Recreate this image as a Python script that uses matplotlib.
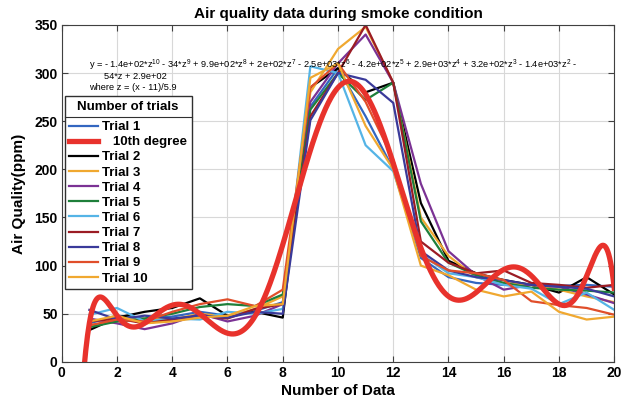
import numpy as np
import matplotlib.pyplot as plt
from matplotlib.lines import Line2D

plt.rcParams['font.family'] = ['Liberation Sans', 'DejaVu Sans']
plt.rcParams['mathtext.fontset'] = 'custom'
plt.rcParams['mathtext.rm'] = 'Liberation Sans'

x = np.arange(1, 21)

trial_1 = [40, 48, 45, 47, 52, 48, 53, 62, 265, 305, 255, 200, 108, 88, 82, 80, 80, 79, 80, 78]
trial_2 = [33, 46, 52, 56, 66, 48, 52, 46, 285, 305, 280, 290, 165, 105, 92, 85, 80, 72, 88, 70]
trial_3 = [38, 42, 45, 44, 50, 47, 55, 68, 280, 325, 348, 290, 150, 110, 88, 82, 80, 75, 68, 62]
trial_4 = [45, 40, 34, 40, 50, 42, 48, 60, 270, 310, 340, 290, 185, 115, 90, 75, 80, 78, 70, 61]
trial_5 = [36, 42, 45, 50, 57, 60, 58, 70, 262, 300, 272, 290, 146, 103, 90, 82, 77, 75, 74, 72]
trial_6 = [49, 56, 42, 45, 44, 52, 50, 55, 307, 300, 225, 198, 112, 92, 88, 80, 76, 60, 72, 54]
trial_7 = [42, 45, 40, 44, 48, 45, 55, 60, 255, 300, 350, 290, 125, 103, 92, 95, 82, 80, 77, 80]
trial_8 = [54, 44, 48, 45, 48, 46, 52, 50, 251, 300, 293, 269, 115, 95, 88, 85, 80, 78, 76, 68]
trial_9 = [38, 44, 42, 52, 60, 65, 58, 75, 285, 310, 270, 210, 110, 95, 92, 85, 63, 59, 56, 49]
trial_10 = [42, 48, 40, 42, 46, 48, 58, 60, 295, 310, 245, 200, 100, 90, 75, 68, 73, 52, 44, 47]

trials = [trial_1, trial_2, trial_3, trial_4, trial_5, trial_6, trial_7, trial_8, trial_9, trial_10]
colors = ['#3366C0', 'black', '#F0A830', '#7B3294', '#1E7F3A', '#55B4E6',
          '#9B1C24', '#3A3A9A', '#E04E2A', '#F0A830']

# 10th degree fit of trial 1, centred and scaled like matlab basic fitting
mu, sd = x.mean(), x.std(ddof=1)
coef = np.polyfit((x - mu) / sd, trial_1, 10)
xf = np.linspace(0, 20, 600)
yf = np.polyval(coef, (xf - mu) / sd)

fig = plt.figure(figsize=(6.3, 4.08), dpi=100)
ax = fig.add_axes([0.098, 0.113, 0.877, 0.826])

handles = []
for i, (t, c) in enumerate(zip(trials, colors)):
    h, = ax.plot(x, t, color=c, lw=1.6, label='Trial %d' % (i + 1))
    handles.append(h)
hf, = ax.plot(xf, yf, color='#E8322C', lw=3.8, label='   10th degree')
handles.insert(1, hf)

ax.set_xlim(0, 20)
ax.set_ylim(0, 350)
ax.set_xticks(range(0, 21, 2))
ax.set_yticks(range(0, 351, 50))
ax.grid(True, color='#d8d8d8', lw=0.8)
ax.tick_params(direction='in', top=True, right=True, length=4, color='#404040',
               labelsize=10, pad=3)
for lab in ax.get_xticklabels() + ax.get_yticklabels():
    lab.set_fontweight('bold')
for s in ax.spines.values():
    s.set_color('#404040')
    s.set_linewidth(0.8)

ax.set_title('Air quality data during smoke condition', fontsize=11, fontweight='bold', pad=5)
ax.set_xlabel('Number of Data', fontsize=11, fontweight='bold', labelpad=3)
ax.set_ylabel('Air Quality(ppm)', fontsize=11, fontweight='bold', labelpad=6)

leg = ax.legend(handles=handles, loc='upper left', bbox_to_anchor=(0.005, 0.789),
                title='Number of trials', fancybox=False, edgecolor='#303030',
                framealpha=1, prop={'weight': 'bold', 'size': 9.5},
                handlelength=2.2, handletextpad=0.3, labelspacing=0.22,
                borderpad=0.35, borderaxespad=0)
leg.get_title().set_fontweight('bold')
leg.get_title().set_fontsize(9.5)
leg.set_zorder(5)
leg._legend_box.sep = 6  # more room under the title for the separator

eq1 = (r'y = - 1.4e+02*z$^{10}$ - 34*z$^{9}$ + 9.9e+02*z$^{8}$ + 2e+02*z$^{7}$ - 2.5e+03*z$^{6}$'
       r' - 4.2e+02*z$^{5}$ + 2.9e+03*z$^{4}$ + 3.2e+02*z$^{3}$ - 1.4e+03*z$^{2}$ -')
ax.text(0.05, 0.881, eq1, transform=ax.transAxes, fontsize=6.7, va='center')
ax.text(0.076, 0.846, '54*z + 2.9e+02', transform=ax.transAxes, fontsize=6.7, va='center')
ax.text(0.05, 0.813, 'where z = (x - 11)/5.9', transform=ax.transAxes, fontsize=6.7, va='center')

# separator line under the legend title, as matlab draws it
fig.canvas.draw()
inv = fig.transFigure.inverted()
lb = leg.get_frame().get_window_extent()
tb = leg.get_title().get_window_extent()
hb = leg._legend_handle_box.get_window_extent()
ysep = (tb.y0 + hb.y1) / 2
(x0, y0), (x1, _) = inv.transform([(lb.x0, ysep), (lb.x1, ysep)])
fig.add_artist(Line2D([x0, x1], [y0, y0], transform=fig.transFigure,
                      color='#303030', lw=0.8, zorder=10))

fig.savefig('out.png', dpi=100)
